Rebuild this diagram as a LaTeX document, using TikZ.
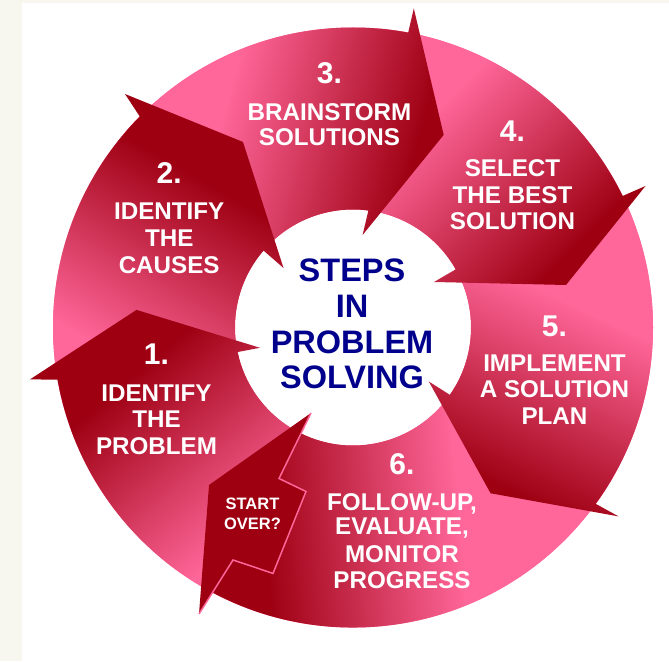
\documentclass[tikz,border=0pt]{standalone}
\usepackage{fontspec}
\setmainfont{Liberation Sans}
\definecolor{ringpink}{RGB}{255,102,153}
\definecolor{arrdark}{RGB}{158,0,18}
\definecolor{navyc}{RGB}{0,0,140}
\definecolor{bgcream}{RGB}{247,247,240}
\pgfdeclarehorizontalshading{arrowfade}{100bp}{color(0bp)=(ringpink); color(46.5bp)=(ringpink); color(53.5bp)=(arrdark); color(100bp)=(arrdark)}
\tikzset{
  numlbl/.style={text=white, inner sep=0pt, anchor=base, font=\bfseries\fontsize{30}{30}\selectfont},
  steplbl/.style={text=white, inner sep=0pt, anchor=base, font=\bfseries\fontsize{24.2}{24.2}\selectfont},
  ctrlbl/.style={text=navyc, inner sep=0pt, anchor=base, font=\bfseries\fontsize{32.5}{32.5}\selectfont},
  overlbl/.style={text=white, inner sep=0pt, anchor=base, font=\bfseries\fontsize{16.5}{16.5}\selectfont},
  fadefill/.style={shading=arrowfade, overlay},
  zigline/.style={draw=ringpink, line width=1.5pt, line join=miter}
}
\begin{document}
\begin{tikzpicture}[x=1pt,y=1pt]
\useasboundingbox (0,0) rectangle (669,661);
\fill[white] (0,0) rectangle (669,661);
\fill[bgcream] (0,0) rectangle (22,661);
\fill[bgcream] (0,658) rectangle (669,661);
\coordinate (C) at (353,333.5);
\fill[ringpink] (C) circle[radius=300];
\fill[white] (C) circle[radius=118];

% arrow 6
\begin{scope}
\clip ([shift={(353,333.5)}]-30:300) arc[start angle=-30, end angle=-117.9, radius=300]
  -- (233,101) -- (273,87.6) -- (306,169.5) -- (279,182.5)
  -- ([shift={(353,333.5)}]-116.2:118) arc[start angle=-116.2, end angle=-30, radius=118] -- cycle;
\shade[fadefill, transform canvas={rotate around={185:(365,91)}}] ([shift={(365,91)}]-700,-700) rectangle ++(1400,1400);
\end{scope}

% arrow 5
\begin{scope}
\clip (618.6,144.6) -- (490.6,167.7) -- (428.8,279.5)
  -- ([shift={(353,333.5)}]-34.8:118) arc[start angle=-34.8, end angle=30, radius=118]
  -- ([shift={(353,333.5)}]30:300) arc[start angle=30, end angle=-36, radius=300] -- cycle;
\shade[fadefill, transform canvas={rotate around={-115:(545,261)}}] ([shift={(545,261)}]-700,-700) rectangle ++(1400,1400);
\end{scope}

% arrow 4
\begin{scope}
\clip (645.5,475) -- (566,376) -- (434,379)
  -- ([shift={(353,333.5)}]29.5:118) arc[start angle=29.5, end angle=85, radius=118]
  -- ([shift={(353,333.5)}]85:300) arc[start angle=85, end angle=26, radius=300] -- cycle;
\shade[fadefill, transform canvas={rotate around={-45:(520,496)}}] ([shift={(520,496)}]-700,-700) rectangle ++(1400,1400);
\end{scope}

% arrow 3
\begin{scope}
\clip (413.8,652.6) -- (443.7,526.1) -- (362.6,426)
  -- ([shift={(353,333.5)}]82.5:118) arc[start angle=82.5, end angle=140, radius=118]
  -- ([shift={(353,333.5)}]140:300) arc[start angle=140, end angle=79.4, radius=300] -- cycle;
\shade[fadefill, transform canvas={rotate around={-15:(330,566)}}] ([shift={(330,566)}]-700,-700) rectangle ++(1400,1400);
\end{scope}

% arrow 2
\begin{scope}
\clip (125,567) -- (243,519) -- (283.5,393)
  -- ([shift={(353,333.5)}]139.3:118) arc[start angle=139.3, end angle=195, radius=118]
  -- ([shift={(353,333.5)}]195:300) arc[start angle=195, end angle=135.3, radius=300] -- cycle;
\shade[fadefill, transform canvas={rotate around={60:(120,416)}}] ([shift={(120,416)}]-700,-700) rectangle ++(1400,1400);
\end{scope}

% arrow 1
\begin{scope}
\clip (30,281.6) -- (136.5,351.1) -- (260,313.2)
  -- ([shift={(353,333.5)}]192:118) arc[start angle=192, end angle=238, radius=118]
  -- (209,176) -- (201.2,74.7) arc[start angle=239.6, end angle=190, radius=300] -- cycle;
\shade[fadefill, transform canvas={rotate around={130:(160,181)}}] ([shift={(160,181)}]-700,-700) rectangle ++(1400,1400);
\end{scope}

% start over arrow
\fill[arrdark] (311,248) -- (209,176) -- (199,47) -- (233,101) -- (273,87.6) -- (306,169.5) -- (279,182.5) -- cycle;
\path[zigline] (199,47) -- (233,101) -- (273,87.6) -- (306,169.5) -- (279,182.5) -- (311,248);

% centre
\node[ctrlbl] (c1) at (352,379.3) {STEPS};
\node[ctrlbl] (c2) at (352,343) {IN};
\node[ctrlbl] (c3) at (352,307.7) {PROBLEM};
\node[ctrlbl] (c4) at (352,272.7) {SOLVING};

% step 1
\node[numlbl] (n1) at (156.5,296) {1.};
\node[steplbl] (s1a) at (156.5,259) {IDENTIFY};
\node[steplbl] (s1b) at (156.5,233) {THE};
\node[steplbl] (s1c) at (156.5,206) {PROBLEM};
% step 2
\node[numlbl] (n2) at (169.2,477.7) {2.};
\node[steplbl] (s2a) at (169.2,441) {IDENTIFY};
\node[steplbl] (s2b) at (169.2,414.3) {THE};
\node[steplbl] (s2c) at (169.2,387.7) {CAUSES};
% step 3
\node[numlbl] (n3) at (329.5,577.5) {3.};
\node[steplbl] (s3a) at (329.5,540.5) {BRAINSTORM};
\node[steplbl] (s3b) at (329.5,515.6) {SOLUTIONS};
% step 4
\node[numlbl] (n4) at (512.5,519) {4.};
\node[steplbl] (s4a) at (512.5,484) {SELECT};
\node[steplbl] (s4b) at (512.5,457.5) {THE BEST};
\node[steplbl] (s4c) at (512.5,431.5) {SOLUTION};
% step 5
\node[numlbl] (n5) at (554.5,324.3) {5.};
\node[steplbl] (s5a) at (554.5,289.3) {IMPLEMENT};
\node[steplbl] (s5b) at (554.5,263) {A SOLUTION};
\node[steplbl] (s5c) at (554.5,236) {PLAN};
% step 6
\node[numlbl] (n6) at (402,186.7) {6.};
\node[steplbl] (s6a) at (402,150) {FOLLOW-UP,};
\node[steplbl] (s6b) at (402,126.4) {EVALUATE,};
\node[steplbl] (s6c) at (402,98) {MONITOR};
\node[steplbl] (s6d) at (402,72) {PROGRESS};
% start over
\node[overlbl] (so1) at (252.5,151) {START};
\node[overlbl] (so2) at (252.5,131) {OVER?};
\end{tikzpicture}
\end{document}
